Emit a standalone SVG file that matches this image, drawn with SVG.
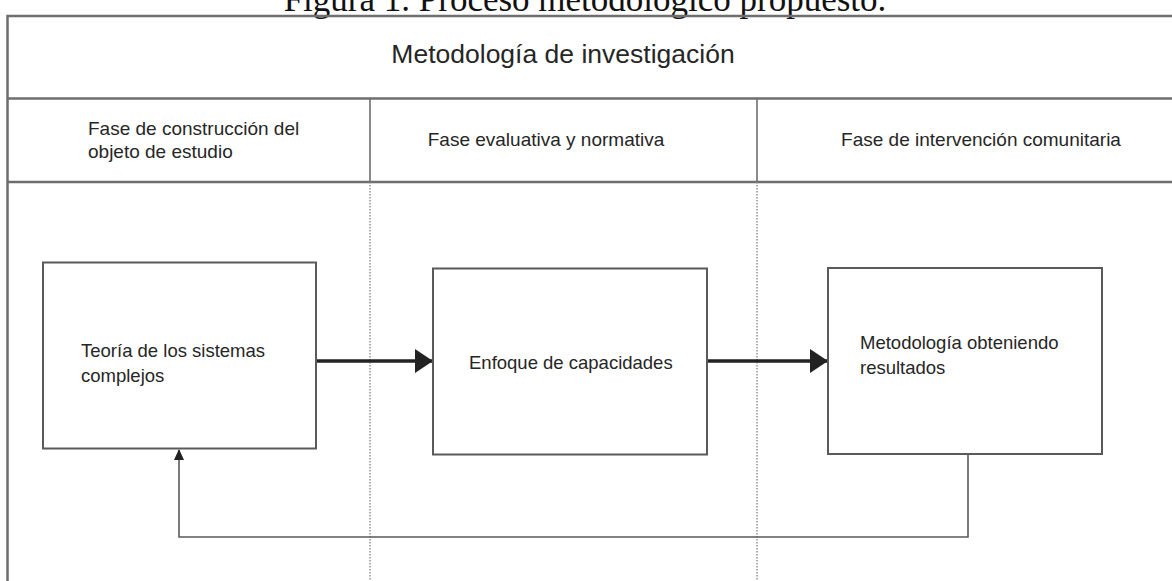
<svg xmlns="http://www.w3.org/2000/svg" width="1172" height="581" viewBox="0 0 1172 581">
<style>
.frame{fill:none;stroke:#6e6e6e;stroke-width:2.5}
.div{stroke:#6e6e6e;stroke-width:1.6}
.dot{stroke:#8a8a8a;stroke-width:1.4;stroke-dasharray:1.5 1.5}
.box{fill:#fff;stroke:#5a5a5a;stroke-width:2}
.t{font-family:"Liberation Sans",Arial,sans-serif;fill:#262626}
.ph{font-size:19px}
.bx{font-size:18.5px}
.main{stroke:#222;stroke-width:3.5;fill:none}
.fb{stroke:#5a5a5a;stroke-width:1.6;fill:none}
</style>
<defs>
<marker id="big" markerUnits="userSpaceOnUse" markerWidth="20" markerHeight="24" refX="18" refY="12" orient="auto">
<path d="M0,0 L18,12 L0,24 Z" fill="#222"/>
</marker>
<marker id="small" markerUnits="userSpaceOnUse" markerWidth="10" markerHeight="12" refX="5" refY="1" orient="0">
<path d="M0,11 L5,0 L10,11 Z" fill="#222"/>
</marker>
</defs>
<rect width="1172" height="581" fill="#fff"/>
<text x="585" y="11" text-anchor="middle" font-family="'Liberation Serif','Times New Roman',serif" font-size="35" fill="#111">Figura 1. Proceso metodológico propuesto.</text>

<g id="frame">
<path class="frame" d="M1172,16 H7.5 V581"/>
<line class="frame" x1="7.5" y1="98.5" x2="1172" y2="98.5"/>
<line class="frame" x1="7.5" y1="182" x2="1172" y2="182"/>
<line class="div" x1="370" y1="98.5" x2="370" y2="182"/>
<line class="div" x1="757" y1="98.5" x2="757" y2="182"/>
<line class="dot" x1="370" y1="182" x2="370" y2="581"/>
<line class="dot" x1="757" y1="182" x2="757" y2="581"/>
</g>

<g id="header">
<text class="t" x="563" y="63" text-anchor="middle" font-size="26.5">Metodología de investigación</text>
</g>
<g id="phase1">
<text class="t ph" x="88" y="135">Fase de construcción del</text>
<text class="t ph" x="88" y="158">objeto de estudio</text>
</g>
<g id="phase2">
<text class="t ph" x="546" y="146" text-anchor="middle">Fase evaluativa y normativa</text>
</g>
<g id="phase3">
<text class="t ph" x="981" y="146" text-anchor="middle">Fase de intervención comunitaria</text>
</g>

<g id="connectors">
<line class="main" x1="316" y1="361" x2="433" y2="361" marker-end="url(#big)"/>
<line class="main" x1="707" y1="361" x2="828" y2="361" marker-end="url(#big)"/>
<path class="fb" d="M968,454 V537 H179 V450" marker-end="url(#small)"/>
</g>

<g id="node1">
<rect class="box" x="43" y="262.5" width="273" height="186"/>
<text class="t bx" x="81" y="357">Teoría de los sistemas</text>
<text class="t bx" x="81" y="382">complejos</text>
</g>
<g id="node2">
<rect class="box" x="433" y="268.5" width="274" height="186"/>
<text class="t bx" x="469" y="369">Enfoque de capacidades</text>
</g>
<g id="node3">
<rect class="box" x="828" y="268" width="274" height="186"/>
<text class="t bx" x="860" y="349">Metodología obteniendo</text>
<text class="t bx" x="860" y="374">resultados</text>
</g>
</svg>
